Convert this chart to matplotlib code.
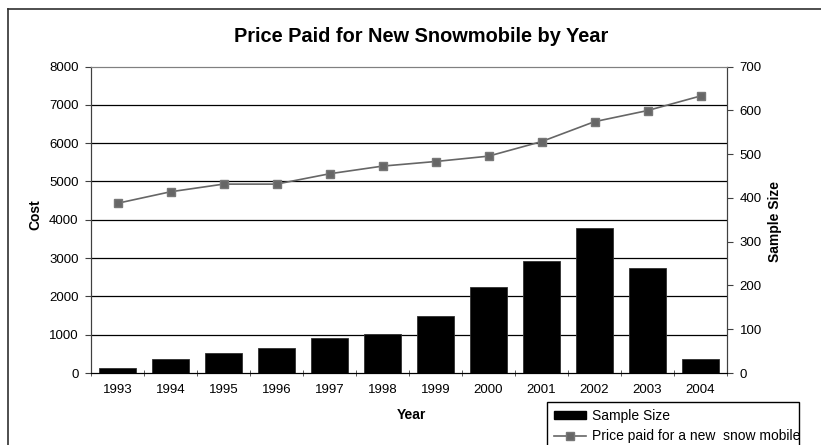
import matplotlib
matplotlib.use('Agg')
import numpy as np
import matplotlib.pyplot as plt
from matplotlib import rcParams
from matplotlib.lines import Line2D
from matplotlib.patches import Rectangle

rcParams.update({'font.family': ['Liberation Sans', 'DejaVu Sans'], 'font.size': 9.5})

years = ['1993', '1994', '1995', '1996', '1997', '1998',
         '1999', '2000', '2001', '2002', '2003', '2004']
price = [4430, 4730, 4930, 4930, 5200, 5400, 5520, 5660, 6040, 6560, 6850, 7230]
sample_size = [12, 31, 45, 57, 80, 88, 130, 197, 255, 331, 240, 31]

W, H = 821, 445
fig = plt.figure(figsize=(W / 100, H / 100), dpi=100)
ax = fig.add_axes([91 / W, 1 - 373 / H, (727 - 91) / W, (373 - 66.5) / H])
ax2 = ax.twinx()

x = np.arange(len(years))

# grid on the cost axis, drawn underneath the bars
ax.set_ylim(0, 8000)
ax.set_yticks(np.arange(0, 8001, 1000))
for v in range(1000, 8000, 1000):
    ax.axhline(v, color='k', lw=0.9, zorder=0)

ax2.set_ylim(0, 700)
ax2.set_yticks(np.arange(0, 701, 100))
bars = ax2.bar(x, sample_size, width=0.70, color='black', edgecolor='#303030', lw=0.6, zorder=2)
# price line uses the cost axis scale but sits on top of the bars
line, = ax2.plot(x, price, color='#666666', lw=1.2, marker='s', ms=6,
                 mfc='#666666', mec='#777777', transform=ax.transData, zorder=3)

for a in (ax, ax2):
    a.set_xlim(-0.5, len(years) - 0.5)
    a.spines['top'].set_color('#808080')
    a.spines['left'].set_color('#404040')
    a.spines['right'].set_color('#404040')
    a.spines['bottom'].set_color('black')

ax.set_xticks(x)
ax.set_xticklabels(years)
ax.set_xticks(np.arange(-0.5, len(years)), minor=True)
ax.tick_params(axis='x', which='major', length=0, pad=8)
ax.tick_params(axis='x', which='minor', length=4, direction='inout', color='#404040')
ax.tick_params(axis='y', length=4, direction='out', pad=5, color='#404040')
ax2.tick_params(axis='y', length=4, direction='out', pad=5, color='#404040')

fig.text(421 / W, 1 - 36 / H, 'Price Paid for New Snowmobile by Year',
         ha='center', va='center', fontsize=14.4, fontweight='bold')
fig.text(35 / W, 1 - 215 / H, 'Cost', rotation=90, ha='center', va='center',
         fontsize=10, fontweight='bold')
fig.text(775 / W, 1 - 222 / H, 'Sample Size', rotation=90, ha='center', va='center',
         fontsize=10, fontweight='bold')
fig.text(411 / W, 1 - 415 / H, 'Year', ha='center', va='center',
         fontsize=10, fontweight='bold')

# outer chart border (right and bottom are cut off in the original)
fig.add_artist(Line2D([8 / W, 1], [1 - 9 / H, 1 - 9 / H], color='#303030', lw=1.2))
fig.add_artist(Line2D([8 / W, 8 / W], [0, 1 - 9 / H], color='#303030', lw=1.2))

handles = [Rectangle((0, 0), 1, 1, color='black'),
           Line2D([], [], color='#666666', lw=1.2, marker='s', ms=6, mfc='#666666', mec='#777777')]
leg = fig.legend(handles, ['Sample Size', 'Price paid for a new  snow mobile'],
                 loc='upper left', bbox_to_anchor=(547 / W, 0, (799 - 547) / W, 1 - 402 / H),
                 mode='expand', fontsize=10, frameon=True, fancybox=False,
                 edgecolor='black', framealpha=1, borderaxespad=0, borderpad=0.5,
                 handlelength=2.3, handleheight=0.55, handletextpad=0.45, labelspacing=0.45)
leg.get_frame().set_linewidth(1.0)

fig.savefig('out.png', dpi=100)
